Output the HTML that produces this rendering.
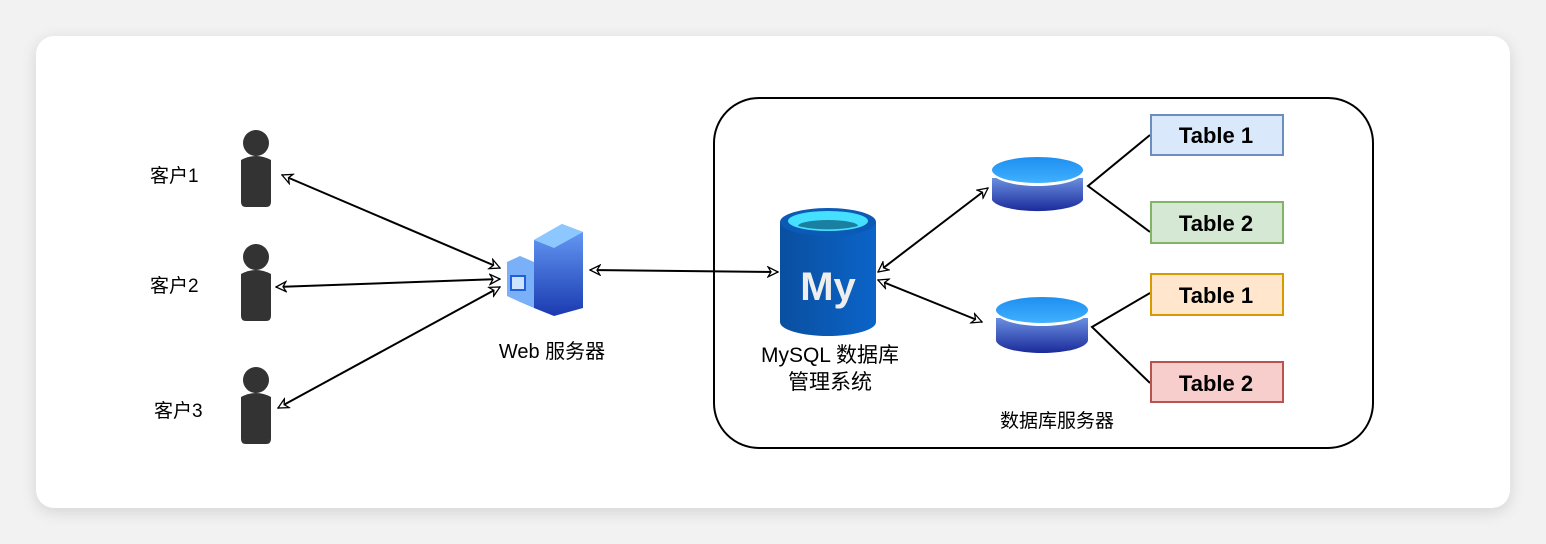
<!DOCTYPE html>
<html><head><meta charset="utf-8"><style>
html,body{margin:0;padding:0;background:#f2f2f2;}
svg{display:block}
text{font-family:"Comic Sans MS","Liberation Sans","Noto Sans CJK SC",sans-serif;}
</style></head><body>
<svg width="1546" height="544" viewBox="0 0 1546 544" xmlns="http://www.w3.org/2000/svg">
<defs>
<filter id="sh" x="-5%" y="-10%" width="110%" height="120%"><feGaussianBlur stdDeviation="8"/></filter>
<linearGradient id="db" x1="0" y1="0" x2="0" y2="1"><stop offset="0" stop-color="#6a8fe0"/><stop offset="1" stop-color="#1a2a9a"/></linearGradient>
<linearGradient id="dbt" x1="0" y1="0" x2="0" y2="1"><stop offset="0" stop-color="#1e8ff0"/><stop offset="1" stop-color="#40b0ff"/></linearGradient>
<linearGradient id="my" x1="0" y1="0" x2="1" y2="0"><stop offset="0" stop-color="#0a4fa0"/><stop offset="1" stop-color="#0b64c8"/></linearGradient>
<linearGradient id="srv" x1="0" y1="0" x2="0" y2="1"><stop offset="0" stop-color="#6aa0f8"/><stop offset="1" stop-color="#1a3ab0"/></linearGradient>
<marker id="ar" viewBox="0 0 12 12" refX="11" refY="6" markerWidth="12" markerHeight="12" orient="auto-start-reverse" markerUnits="userSpaceOnUse"><path d="M1,1 L11,6 L1,11 L4,6 Z" fill="#fff" stroke="#000" stroke-width="1.3"/></marker>
</defs>
<rect x="36" y="40" width="1474" height="472" rx="18" fill="#000" opacity="0.12" filter="url(#sh)"/>
<rect x="36" y="36" width="1474" height="472" rx="18" fill="#fff"/>
<rect x="714" y="98" width="659" height="350" rx="45" fill="none" stroke="#000" stroke-width="2"/>

<!-- persons -->
<g fill="#333">
<g transform="translate(256,130)"><circle cx="0" cy="13" r="13"/><path d="M-15,30 Q0,22 15,30 L15,72 Q15,77 10,77 L-10,77 Q-15,77 -15,72 Z"/></g>
<g transform="translate(256,244)"><circle cx="0" cy="13" r="13"/><path d="M-15,30 Q0,22 15,30 L15,72 Q15,77 10,77 L-10,77 Q-15,77 -15,72 Z"/></g>
<g transform="translate(256,367)"><circle cx="0" cy="13" r="13"/><path d="M-15,30 Q0,22 15,30 L15,72 Q15,77 10,77 L-10,77 Q-15,77 -15,72 Z"/></g>
</g>
<g font-size="19" fill="#000">
<text x="150" y="182">客户1</text>
<text x="150" y="292">客户2</text>
<text x="154" y="417">客户3</text>
</g>

<!-- web server -->
<g>
<path d="M534,240 L562,224 L583,232 L583,308 L554,316 L534,308 Z" fill="url(#srv)"/>
<path d="M534,240 L562,224 L583,232 L554,248 Z" fill="#8cc8ff"/>
<path d="M507,262 L520,256 L534,262 L534,308 L520,302 L507,296 Z" fill="#7ab0f8"/>
<rect x="511" y="276" width="14" height="14" fill="#cde4ff" stroke="#2060e0" stroke-width="2"/>
</g>
<text x="552" y="358" font-size="20" text-anchor="middle">Web 服务器</text>

<!-- arrows -->
<g stroke="#000" stroke-width="2" fill="none">
<line x1="282" y1="175" x2="500" y2="268" marker-start="url(#ar)" marker-end="url(#ar)"/>
<line x1="276" y1="287" x2="500" y2="279" marker-start="url(#ar)" marker-end="url(#ar)"/>
<line x1="278" y1="408" x2="500" y2="287" marker-start="url(#ar)" marker-end="url(#ar)"/>
<line x1="590" y1="270" x2="778" y2="272" marker-start="url(#ar)" marker-end="url(#ar)"/>
<line x1="878" y1="272" x2="988" y2="188" marker-start="url(#ar)" marker-end="url(#ar)"/>
<line x1="878" y1="280" x2="982" y2="322" marker-start="url(#ar)" marker-end="url(#ar)"/>
<polyline points="1150,135 1088,186 1150,232"/>
<polyline points="1150,293 1092,327 1150,383"/>
</g>

<!-- mysql -->
<g>
<path d="M780,222 L780,322 A48,14 0 0 0 876,322 L876,222 Z" fill="url(#my)"/>
<ellipse cx="828" cy="222" rx="48" ry="14" fill="#0b5ab5"/>
<ellipse cx="828" cy="221" rx="40" ry="10" fill="#45e0ff"/>
<path d="M798,226 A30,6 0 0 1 858,226 A40,10 0 0 1 798,226 Z" fill="#1a7fa0"/>
<text x="828" y="300" font-size="40" font-weight="bold" fill="#eee" text-anchor="middle" font-family="Liberation Sans,sans-serif">My</text>
</g>
<text x="830" y="362" font-size="21" text-anchor="middle">MySQL 数据库</text>
<text x="830" y="389" font-size="21" text-anchor="middle">管理系统</text>

<!-- db cylinders -->
<g>
<path d="M992,178 L992,200 A46,13 0 0 0 1083,200 L1083,178 Z" fill="url(#db)"/>
<ellipse cx="1037.5" cy="172" rx="45.5" ry="14" fill="#fff"/>
<ellipse cx="1037.5" cy="170" rx="45.5" ry="13" fill="url(#dbt)"/>
<path d="M996,318 L996,340 A46,13 0 0 0 1088,340 L1088,318 Z" fill="url(#db)"/>
<ellipse cx="1042" cy="312" rx="46" ry="14" fill="#fff"/>
<ellipse cx="1042" cy="310" rx="46" ry="13" fill="url(#dbt)"/>
</g>
<text x="1057" y="427" font-size="19" text-anchor="middle">数据库服务器</text>

<!-- tables -->
<g font-size="22" font-weight="bold" text-anchor="middle">
<rect x="1151" y="115" width="132" height="40" fill="#dae8fc" stroke="#6c8ebf" stroke-width="2"/>
<text x="1216" y="143">Table 1</text>
<rect x="1151" y="202" width="132" height="41" fill="#d5e8d4" stroke="#82b366" stroke-width="2"/>
<text x="1216" y="231">Table 2</text>
<rect x="1151" y="274" width="132" height="41" fill="#ffe6cc" stroke="#d79b00" stroke-width="2"/>
<text x="1216" y="303">Table 1</text>
<rect x="1151" y="362" width="132" height="40" fill="#f8cecc" stroke="#b85450" stroke-width="2"/>
<text x="1216" y="391">Table 2</text>
</g>
</svg>
</body></html>
